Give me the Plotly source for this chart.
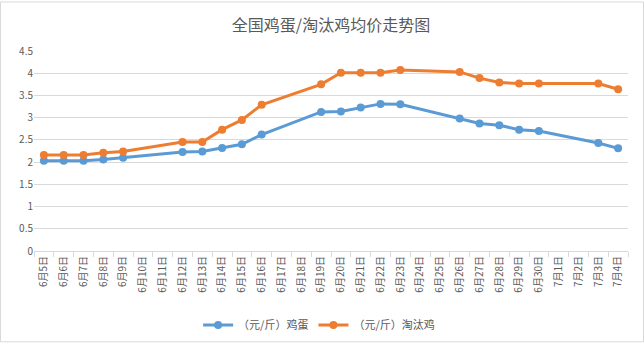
import plotly.graph_objects as go

categories = ["6月5日", "6月6日", "6月7日", "6月8日", "6月9日", "6月10日", "6月11日", "6月12日",
              "6月13日", "6月14日", "6月15日", "6月16日", "6月17日", "6月18日", "6月19日", "6月20日",
              "6月21日", "6月22日", "6月23日", "6月24日", "6月25日", "6月26日", "6月27日", "6月28日",
              "6月29日", "6月30日", "7月1日", "7月2日", "7月3日", "7月4日"]

egg = [2.03, 2.03, 2.03, 2.06, 2.10, None, None, 2.23, 2.24, 2.32, 2.40, 2.62, None, None, 3.13,
       3.14, 3.23, 3.31, 3.30, None, None, 2.98, 2.87, 2.83, 2.73, 2.70, None, None, 2.43, 2.31]

hen = [2.16, 2.16, 2.16, 2.21, 2.24, None, None, 2.45, 2.45, 2.73, 2.95, 3.29, None, None, 3.75,
       4.01, 4.01, 4.01, 4.07, None, None, 4.03, 3.89, 3.79, 3.77, 3.77, None, None, 3.77, 3.64]

series_names = ["（元/斤）鸡蛋", "（元/斤）淘汰鸡"]
colors = ["#5B9BD5", "#ED7D31"]

FONT = "Noto Sans CJK SC"
GREY = "#595959"

fig = go.Figure()
for name, vals, col in zip(series_names, [egg, hen], colors):
    fig.add_trace(go.Scatter(
        x=categories, y=vals, name=name, mode="lines+markers",
        connectgaps=True,
        line=dict(color=col, width=3),
        marker=dict(color=col, size=8),
    ))

fig.update_layout(
    width=644, height=351,
    margin=dict(l=34, r=16, t=51, b=94),
    paper_bgcolor="white", plot_bgcolor="white",
    title=dict(text="全国鸡蛋/淘汰鸡均价走势图", x=0.5, xref="paper", xanchor="center",
               y=1 - 25 / 351, yref="container", yanchor="middle",
               font=dict(family=FONT, size=16, color=GREY)),
    font=dict(family=FONT, color=GREY),
    showlegend=True,
    legend=dict(orientation="h", x=0.48, xanchor="center", y=-0.37, yanchor="middle",
                font=dict(family=FONT, size=11, color=GREY), bgcolor="rgba(0,0,0,0)"),
    xaxis=dict(type="category", categoryorder="array", categoryarray=categories,
               tickangle=-90, tickfont=dict(size=10, color=GREY),
               showgrid=False, showline=True, linecolor="#d9d9d9", linewidth=1,
               ticks="outside", tickson="boundaries", ticklen=5, tickcolor="#d9d9d9",
               range=[-0.5, len(categories) - 0.5]),
    yaxis=dict(range=[0, 4.5], dtick=0.5, tickformat="~g",
               tickfont=dict(size=10, color=GREY),
               showgrid=True, gridcolor="#d9d9d9", gridwidth=1,
               zeroline=False, showline=False, ticks=""),
    shapes=[dict(type="rect", xref="paper", yref="paper",
                 x0=(0.5 - 34) / 594, x1=(643.5 - 34) / 594,
                 y0=(257 - 350.5) / 206, y1=(257 - 0.5) / 206,
                 line=dict(color="#d9d9d9", width=1))],
)

fig.write_html("out.html")
